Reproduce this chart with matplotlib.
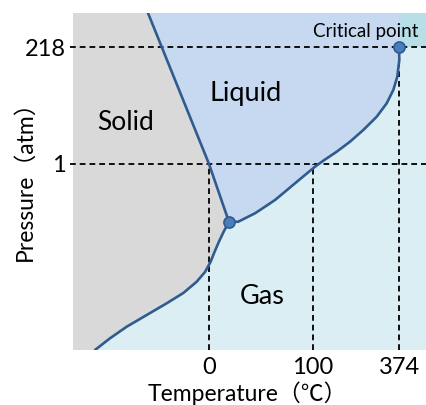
import matplotlib
matplotlib.use("Agg")
import matplotlib.pyplot as plt
from matplotlib.patches import Polygon, Rectangle

plt.rcParams['font.family'] = ['Lato', 'Noto Sans CJK JP', 'DejaVu Sans']

# schematic coordinates (diagram is not to scale)
X_MAX, Y_MAX = 353, 337
x_tick_pos = [136, 240, 326]
x_tick_labels = ["0", "100", "374"]
y_tick_pos = [186, 303]
y_tick_labels = ["1", "218"]

triple_point = (156, 128)
critical_point = (326, 303)

melt_x = [75, 136, 156]
melt_y = [337, 186, 128]

subl_x = [22, 37, 53.7, 73.7, 93.7, 110.3, 123.7, 132, 137.5, 141.5, 146, 151, 156]
subl_y = [0, 11.7, 23.3, 35, 46.7, 57, 68.3, 78, 88, 98, 108.5, 119, 128]

vap_x = [156, 165.3, 172, 182, 192, 202, 212, 222, 232, 242, 250.3, 263.7, 277, 290.3,
         303.7, 313.7, 320.3, 324.3, 326.3, 326]
vap_y = [128, 128.3, 131.7, 136.7, 143.3, 150, 158.3, 166.7, 175, 183.3, 189.3, 198.3, 208.3,
         220, 233.3, 246.7, 260, 273.3, 290, 303]

c_solid = "#d9d9d9"
c_liquid = "#c6d9f1"
c_gas = "#dbeef4"
c_super = "#b8dfe7"
c_line = "#2f5b8e"

fig = plt.figure(figsize=(4.26, 4.05), dpi=100)
ax = fig.add_axes([73/426, 55/405, 353/426, 337/405])
ax.set_xlim(0, X_MAX)
ax.set_ylim(0, Y_MAX)
ax.set_facecolor(c_gas)
for s in ax.spines.values():
    s.set_visible(False)

# regions
solid_pts = [(0, 0), (0, Y_MAX)] + list(zip(melt_x, melt_y)) + list(zip(subl_x[::-1], subl_y[::-1]))
ax.add_patch(Polygon(solid_pts, closed=True, facecolor=c_solid, edgecolor="none", zorder=1))
liquid_pts = list(zip(melt_x, melt_y)) + list(zip(vap_x, vap_y)) + [(critical_point[0], Y_MAX)]
ax.add_patch(Polygon(liquid_pts, closed=True, facecolor=c_liquid, edgecolor="none", zorder=1))
ax.add_patch(Rectangle((critical_point[0], critical_point[1]), X_MAX - critical_point[0],
                       Y_MAX - critical_point[1], facecolor=c_super, edgecolor="none", zorder=1))

# dashed guide lines
dash = dict(color="black", lw=1.3, linestyle=(0, (3.2, 2.2)), zorder=2)
ax.plot([-3, X_MAX], [y_tick_pos[1]] * 2, clip_on=False, **dash)
ax.plot([-3, X_MAX], [y_tick_pos[0]] * 2, clip_on=False, **dash)
ax.plot([x_tick_pos[0]] * 2, [0, y_tick_pos[0]], **dash)
ax.plot([x_tick_pos[1]] * 2, [0, y_tick_pos[0]], **dash)
ax.plot([x_tick_pos[2]] * 2, [0, y_tick_pos[1]], **dash)

# phase boundaries
lk = dict(color=c_line, lw=1.9, solid_joinstyle="round", solid_capstyle="round", zorder=3)
ax.plot(melt_x, melt_y, **lk)
ax.plot(subl_x, subl_y, **lk)
ax.plot(vap_x, vap_y, **lk)

ax.plot(*triple_point, marker="o", ms=8, mfc="#4a7ebb", mec=c_line, mew=1.2, zorder=4)
ax.plot(*critical_point, marker="o", ms=8, mfc="#4a7ebb", mec=c_line, mew=1.2, zorder=4)

# labels
ax.text(52.5, 228, "Solid", fontsize=19, ha="center", va="center", zorder=5)
ax.text(173, 257, "Liquid", fontsize=19.5, ha="center", va="center", zorder=5)
ax.text(189, 53, "Gas", fontsize=19.5, ha="center", va="center", zorder=5)
ax.text(292.5, 318, "Critical point", fontsize=13.5, ha="center", va="center", zorder=5)

ax.set_xticks(x_tick_pos)
ax.set_xticklabels(x_tick_labels, fontsize=17)
ax.set_yticks(y_tick_pos)
ax.set_yticklabels(y_tick_labels, fontsize=17)
ax.tick_params(length=0, pad=5)
ax.set_xlabel("Temperature（℃）", fontsize=16.5)
ax.set_ylabel("Pressure（atm）", fontsize=16.5)
ax.xaxis.label.set_va("center")
ax.yaxis.label.set_va("center")
ax.xaxis.set_label_coords(0.494, -0.128)
ax.yaxis.set_label_coords(-0.136, 0.519)

fig.savefig("out.png", dpi=100)
